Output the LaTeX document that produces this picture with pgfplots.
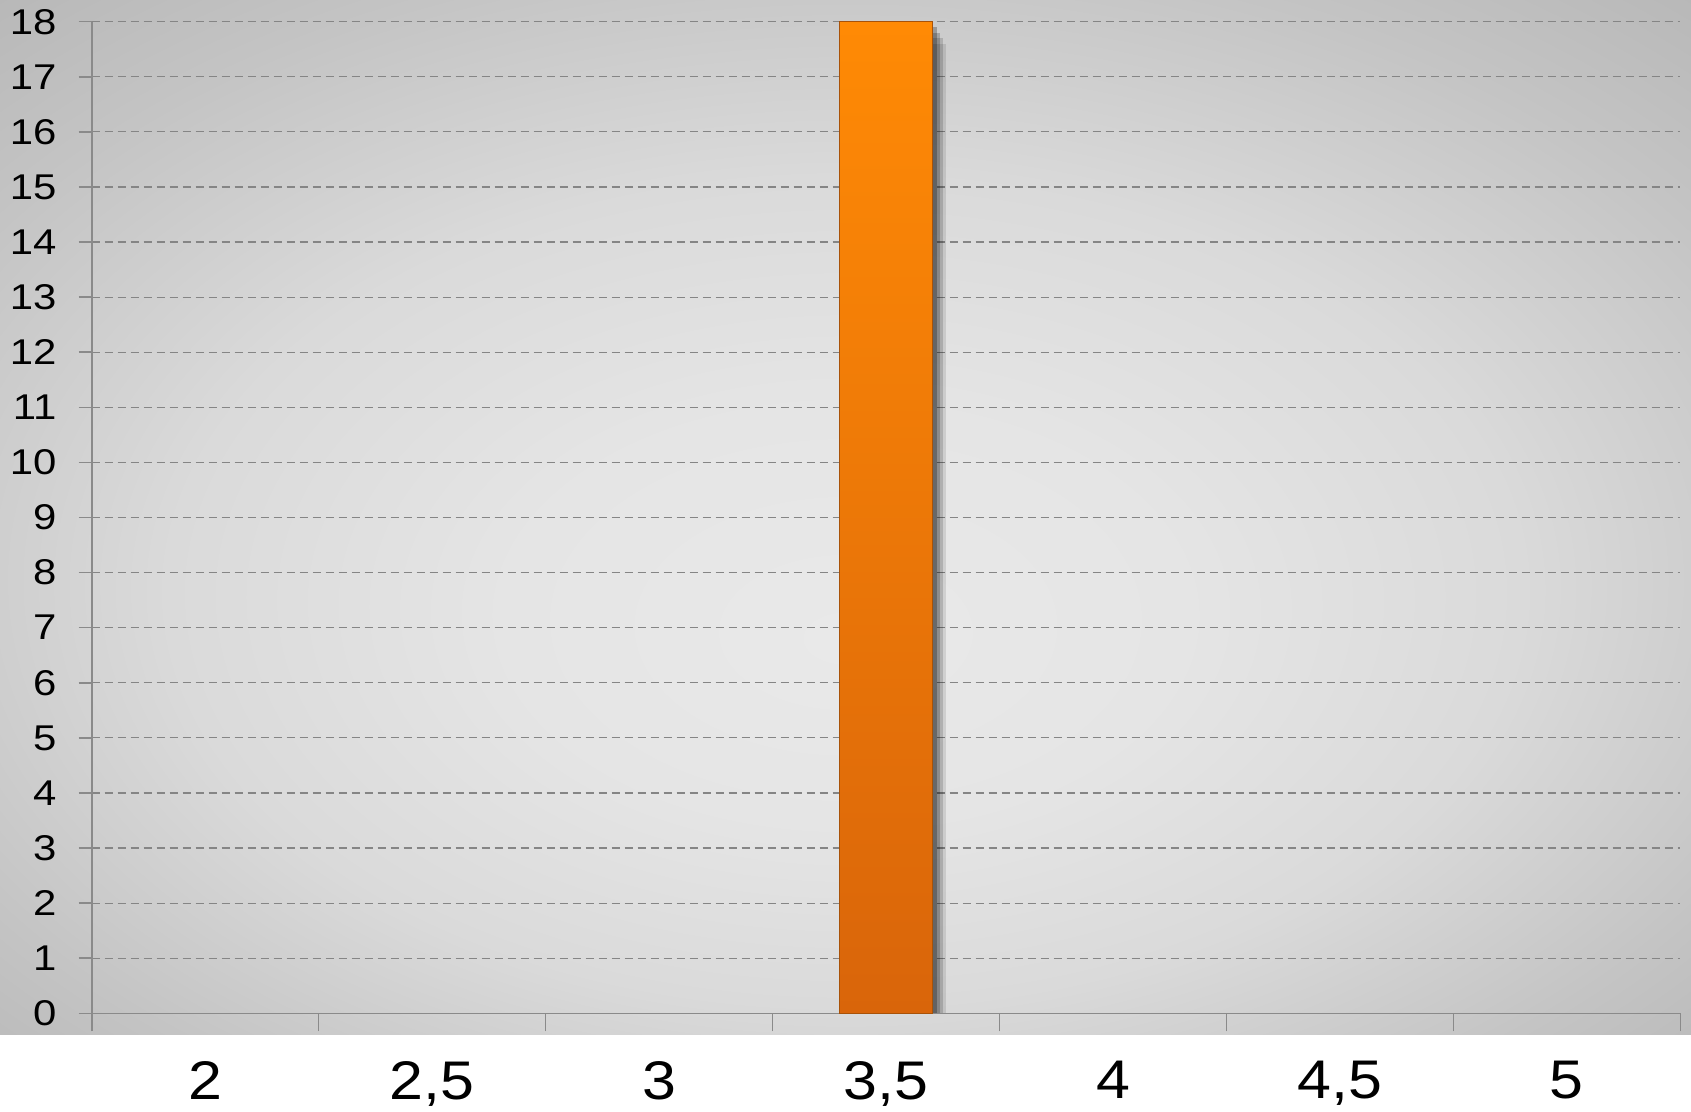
\documentclass[border=0pt]{standalone}
\usepackage{pgfplots}
\pgfplotsset{compat=1.18}
\usepackage{fontspec}
\setmainfont{Liberation Sans}
\definecolor{bgA}{HTML}{E9E9E9}
\definecolor{bgB}{HTML}{E5E5E5}
\definecolor{bgC}{HTML}{DADADA}
\definecolor{bgD}{HTML}{C4C4C4}
\definecolor{bgE}{HTML}{B2B2B2}
\definecolor{bgF}{HTML}{A8A8A8}
\definecolor{bartop}{HTML}{FF8A05}
\definecolor{barbot}{HTML}{D9650A}
\definecolor{bardraw}{HTML}{A85208}
\definecolor{axgray}{HTML}{8A8A8A}
\definecolor{gridgray}{HTML}{858585}
\pgfdeclareradialshading{bgshade}{\pgfpoint{0bp}{-6bp}}{color(0bp)=(bgA); color(10bp)=(bgB); color(20bp)=(bgC); color(30bp)=(bgD); color(40bp)=(bgE); color(50bp)=(bgF)}
\begin{document}
\begin{tikzpicture}
\useasboundingbox (0,0) rectangle (845.5pt,-556pt);
\fill[white] (0,0) rectangle (845.5pt,-556pt);
\shade[shading=bgshade] (0,0) rectangle (845.5pt,-517.2pt);
\begin{axis}[
  at={(45.85pt,-506.65pt)}, anchor=south west,
  scale only axis, width=794.3pt, height=495.8pt,
  xmin=-0.5, xmax=6.5, ymin=0, ymax=18,
  axis x line=bottom, axis y line=left,
  axis line style={-, draw=axgray, line width=0.8pt},
  xtick={0,...,6},
  xticklabels={2,{2,5},3,{3,5},4,{4,5},5},
  minor xtick={-0.5,0.5,...,6.5},
  ytick={0,...,18},
  tick align=outside,
  major tick length=6.5pt, minor tick length=9pt,
  major x tick style={draw=none},
  minor x tick style={draw=axgray, line width=0.8pt},
  major y tick style={draw=axgray, line width=0.8pt},
  ymajorgrids,
  major grid style={draw=gridgray, dash pattern=on 4pt off 2.5pt, line width=0.6pt},
  /pgf/number format/assume math mode=true,
  yticklabel style={font=\fontsize{17.9}{20}\selectfont, text=black, xscale=1.17, xshift=-6pt},
  xticklabel style={font=\fontsize{27.2}{30}\selectfont, text=black, xscale=1.12, yshift=-14pt},
  clip=false,
]
\addplot[ybar, bar width=46.3pt, bar shift=7pt, draw=none, fill=black, fill opacity=0.1] coordinates {(3,17.6)};
\addplot[ybar, bar width=46.3pt, bar shift=5.5pt, draw=none, fill=black, fill opacity=0.15] coordinates {(3,17.7)};
\addplot[ybar, bar width=46.3pt, bar shift=4pt, draw=none, fill=black, fill opacity=0.2] coordinates {(3,17.8)};
\addplot[ybar, bar width=46.3pt, bar shift=2.5pt, draw=none, fill=black, fill opacity=0.25] coordinates {(3,17.9)};
\addplot[ybar, bar width=46.3pt, bar shift=0pt, draw=bardraw, line width=0.6pt, top color=bartop, bottom color=barbot] coordinates {(3,18)};
\end{axis}
\end{tikzpicture}
\end{document}
